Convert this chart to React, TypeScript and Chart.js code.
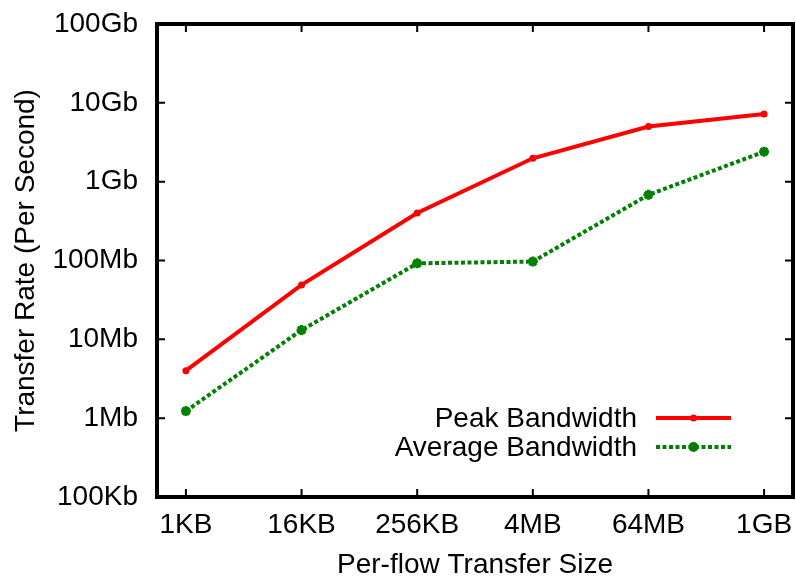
import { useEffect, useRef } from "react";
import { Chart, registerables } from "chart.js";

Chart.register(...registerables);

// Transfer sizes (x categories, evenly spaced on a log2 axis)
const sizeLabels = ["1KB", "16KB", "256KB", "4MB", "64MB", "1GB"];

// Measured rates in bits per second
const peakBandwidth = [4.0e6, 4.9e7, 4.0e8, 1.98e9, 5.0e9, 7.2e9];
const averageBandwidth = [1.23e6, 1.31e7, 9.2e7, 9.7e7, 6.8e8, 2.4e9];

// Decade ticks on the rate axis
const rateTickValues = [1e5, 1e6, 1e7, 1e8, 1e9, 1e10, 1e11];
const rateTickLabels = ["100Kb", "1Mb", "10Mb", "100Mb", "1Gb", "10Gb", "100Gb"];

const seriesNames = ["Peak Bandwidth", "Average Bandwidth"];

const FAMILY = '"Liberation Sans", Arial, Helvetica, sans-serif';
const FONT_SIZE = 28;
const PEAK_COLOR = "rgb(255,0,0)";
const AVG_COLOR = "rgb(0,128,0)";

export default function App() {
  const canvasRef = useRef<HTMLCanvasElement>(null);

  useEffect(() => {
    const canvas = canvasRef.current;
    if (!canvas) return;

    const font = { family: FAMILY, size: FONT_SIZE };

    // Box frame with inward ticks on all four sides, plus the key in the lower right.
    const framePlugin = {
      id: "frameAndKey",
      afterDatasetsDraw(chart: any) {
        const { ctx, chartArea: a, scales } = chart;
        ctx.save();
        ctx.strokeStyle = "#000";
        ctx.lineWidth = 2;
        const tick = 8;
        ctx.beginPath();
        sizeLabels.forEach((_, i) => {
          const x = scales.x.getPixelForValue(i);
          ctx.moveTo(x, a.bottom);
          ctx.lineTo(x, a.bottom - tick);
          ctx.moveTo(x, a.top);
          ctx.lineTo(x, a.top + tick);
        });
        rateTickValues.forEach((v) => {
          const y = scales.y.getPixelForValue(v);
          ctx.moveTo(a.left, y);
          ctx.lineTo(a.left + tick, y);
          ctx.moveTo(a.right, y);
          ctx.lineTo(a.right - tick, y);
        });
        ctx.stroke();
        ctx.lineWidth = 4;
        ctx.strokeRect(a.left, a.top, a.right - a.left, a.bottom - a.top);

        // Key
        const textRight = a.right - 156;
        const lineStart = a.right - 137;
        const lineEnd = a.right - 62;
        const markX = (lineStart + lineEnd) / 2;
        const rows = [a.bottom - 79, a.bottom - 50];
        ctx.font = `${FONT_SIZE}px ${FAMILY}`;
        ctx.textAlign = "right";
        ctx.textBaseline = "middle";
        seriesNames.forEach((name, i) => {
          const y = rows[i];
          ctx.fillStyle = "#000";
          ctx.fillText(name, textRight, y + 1);
          const color = i === 0 ? PEAK_COLOR : AVG_COLOR;
          ctx.strokeStyle = color;
          ctx.lineWidth = 4;
          ctx.setLineDash(i === 0 ? [] : [4, 2.5]);
          ctx.beginPath();
          ctx.moveTo(lineStart, y);
          ctx.lineTo(lineEnd, y);
          ctx.stroke();
          ctx.setLineDash([]);
          ctx.fillStyle = color;
          ctx.beginPath();
          ctx.arc(markX, y, i === 0 ? 3.5 : 5, 0, Math.PI * 2);
          ctx.fill();
        });
        ctx.restore();
      },
    };

    const chart = new Chart(canvas, {
      type: "line",
      data: {
        datasets: [
          {
            label: seriesNames[0],
            data: peakBandwidth.map((v, i) => ({ x: i, y: v })),
            borderColor: PEAK_COLOR,
            backgroundColor: PEAK_COLOR,
            borderWidth: 4,
            pointStyle: "circle",
            pointRadius: 3.5,
            pointBorderWidth: 0,
            pointBackgroundColor: PEAK_COLOR,
            tension: 0,
          },
          {
            label: seriesNames[1],
            data: averageBandwidth.map((v, i) => ({ x: i, y: v })),
            borderColor: AVG_COLOR,
            backgroundColor: AVG_COLOR,
            borderWidth: 4,
            borderDash: [4, 2.5],
            pointStyle: "star",
            pointRadius: 5,
            pointBorderWidth: 3,
            pointBorderColor: AVG_COLOR,
            pointBackgroundColor: AVG_COLOR,
            tension: 0,
          },
        ],
      },
      options: {
        animation: false,
        responsive: false,
        layout: { autoPadding: false, padding: { top: 24, right: 3, left: 0, bottom: 0 } },
        plugins: {
          legend: { display: false },
          tooltip: { enabled: false },
        },
        scales: {
          x: {
            type: "linear",
            min: -0.25,
            max: 5.25,
            grid: { display: false },
            border: { display: false },
            afterBuildTicks: (s: any) => {
              s.ticks = sizeLabels.map((_, i) => ({ value: i }));
            },
            afterFit: (s: any) => {
              s.height = 80;
              s.paddingLeft = 0;
              s.paddingRight = 0;
            },
            ticks: {
              autoSkip: false,
              maxRotation: 0,
              color: "#000",
              font,
              padding: 3,
              callback: (v: any) => sizeLabels[Math.round(Number(v))] ?? "",
            },
            title: {
              display: true,
              text: "Per-flow Transfer Size",
              color: "#000",
              font,
              padding: { top: 0, bottom: -5 },
            },
          },
          y: {
            type: "logarithmic",
            min: 1e5,
            max: 1e11,
            grid: { display: false },
            border: { display: false },
            afterBuildTicks: (s: any) => {
              s.ticks = rateTickValues.map((v) => ({ value: v }));
            },
            afterFit: (s: any) => {
              s.width = 157;
              s.paddingTop = 0;
              s.paddingBottom = 0;
            },
            ticks: {
              color: "#000",
              font,
              padding: 11,
              callback: (v: any) =>
                rateTickLabels[Math.round(Math.log10(Number(v))) - 5] ?? "",
            },
            title: {
              display: true,
              text: "Transfer Rate (Per Second)",
              color: "#000",
              font,
              padding: { top: 9, bottom: 0 },
            },
          },
        },
      },
      plugins: [framePlugin],
    } as any);

    return () => chart.destroy();
  }, []);

  return (
    <div style={{ position: "fixed", left: 0, top: 0, width: 796, height: 577, background: "#fff" }}>
      <canvas ref={canvasRef} width={796} height={577} />
    </div>
  );
}
